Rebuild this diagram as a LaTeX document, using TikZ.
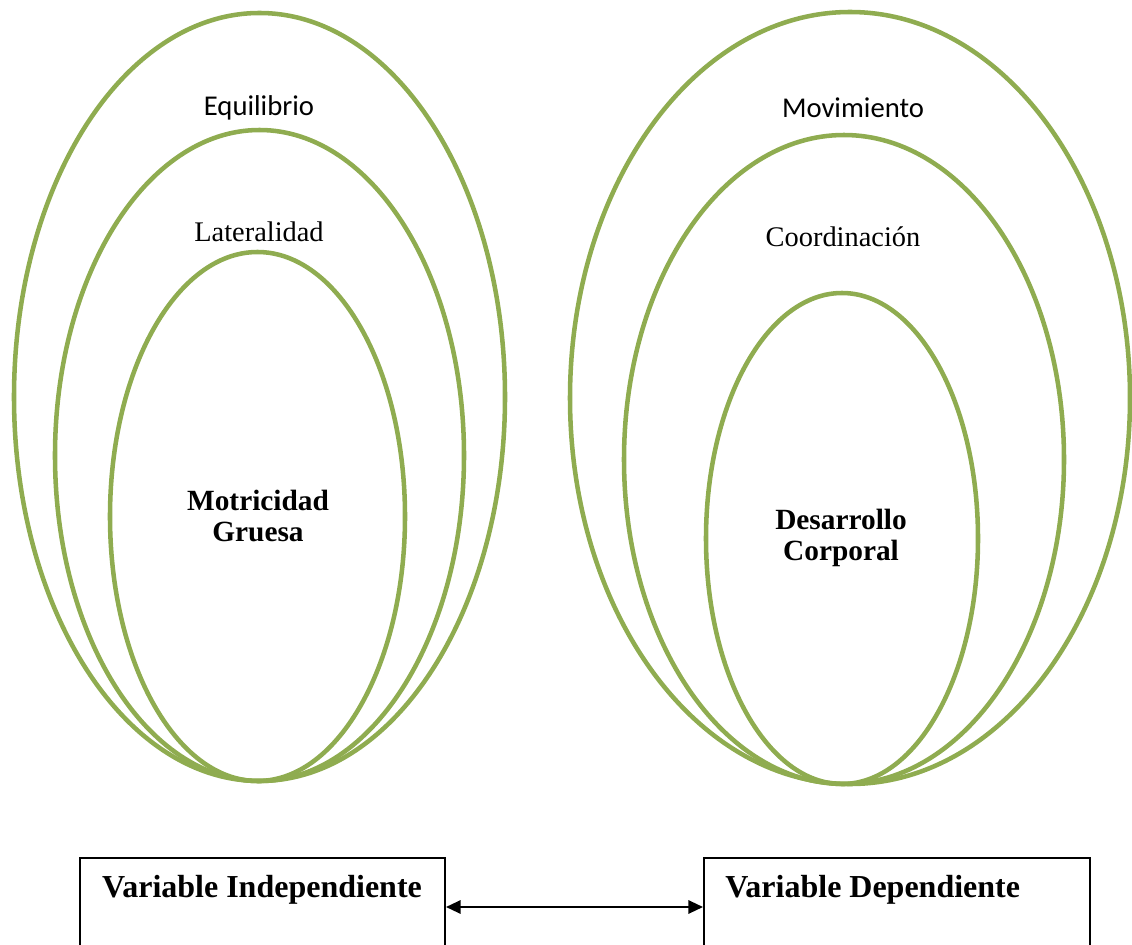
\documentclass[tikz,border=0pt]{standalone}
\usepackage{fontspec}
\setmainfont{Liberation Serif}
\newfontfamily\calibri{Carlito}
\usetikzlibrary{shapes.geometric,arrows.meta}
\definecolor{ringgreen}{RGB}{143,172,80}
\tikzset{
  ring/.style={draw=ringgreen, line width=3.4pt, ellipse, inner sep=0pt, minimum width=#1},
  sanslabel/.style={font=\calibri\fontsize{21.5}{24}\selectfont, inner sep=0pt},
  seriflabel/.style={font=\fontsize{21.3}{24}\selectfont, inner sep=0pt},
  corelabel/.style={font=\bfseries\fontsize{22}{23.5}\selectfont, align=center, inner sep=0pt},
  varbox/.style={draw=black, line width=1.5pt, rectangle, inner sep=0pt},
  vartext/.style={font=\bfseries\fontsize{24}{28}\selectfont, inner sep=0pt},
  link/.style={line width=1.6pt, {Triangle[length=11pt,width=10pt]}-{Triangle[length=11pt,width=10pt]}}
}
\begin{document}
\begin{tikzpicture}[x=0.75pt,y=-0.75pt]
\useasboundingbox (0,0) rectangle (1132,945);
\clip (0,0) rectangle (1132,945);
% left group
\node[ring=368.25pt, minimum height=576pt] (lo) at (259.5,397) {};
\node[ring=306.75pt, minimum height=488.25pt] (lm) at (259.5,455.5) {};
\node[ring=221.25pt, minimum height=396.75pt] (li) at (257.5,516.5) {};
% right group
\node[ring=420pt, minimum height=579pt] (ro) at (850,398) {};
\node[ring=330pt, minimum height=486.75pt] (rm) at (844,459.5) {};
\node[ring=204pt, minimum height=368.25pt] (ri) at (842,538.5) {};
% labels
\node[sanslabel] (equi) at (259,108) {Equilibrio};
\node[seriflabel] (late) at (259,232) {Lateralidad};
\node[corelabel] (motr) at (258,516) {Motricidad\\Gruesa};
\node[sanslabel] (movi) at (853,108) {Movimiento};
\node[seriflabel] (coor) at (843,237) {Coordinación};
\node[corelabel] (desa) at (841,538) {Desarrollo\\Corporal};
% boxes
\node[varbox, minimum width=273.75pt, minimum height=73.5pt] (vi) at (262.5,907) {};
\node[varbox, minimum width=289.5pt, minimum height=73.5pt] (vd) at (897,907) {};
\node[vartext] (vit) at (262,890) {Variable Independiente};
\node[vartext, anchor=west] (vdt) at (725,890) {Variable Dependiente};
\draw[link] (vi.east) -- (vd.west);
\end{tikzpicture}
\end{document}
